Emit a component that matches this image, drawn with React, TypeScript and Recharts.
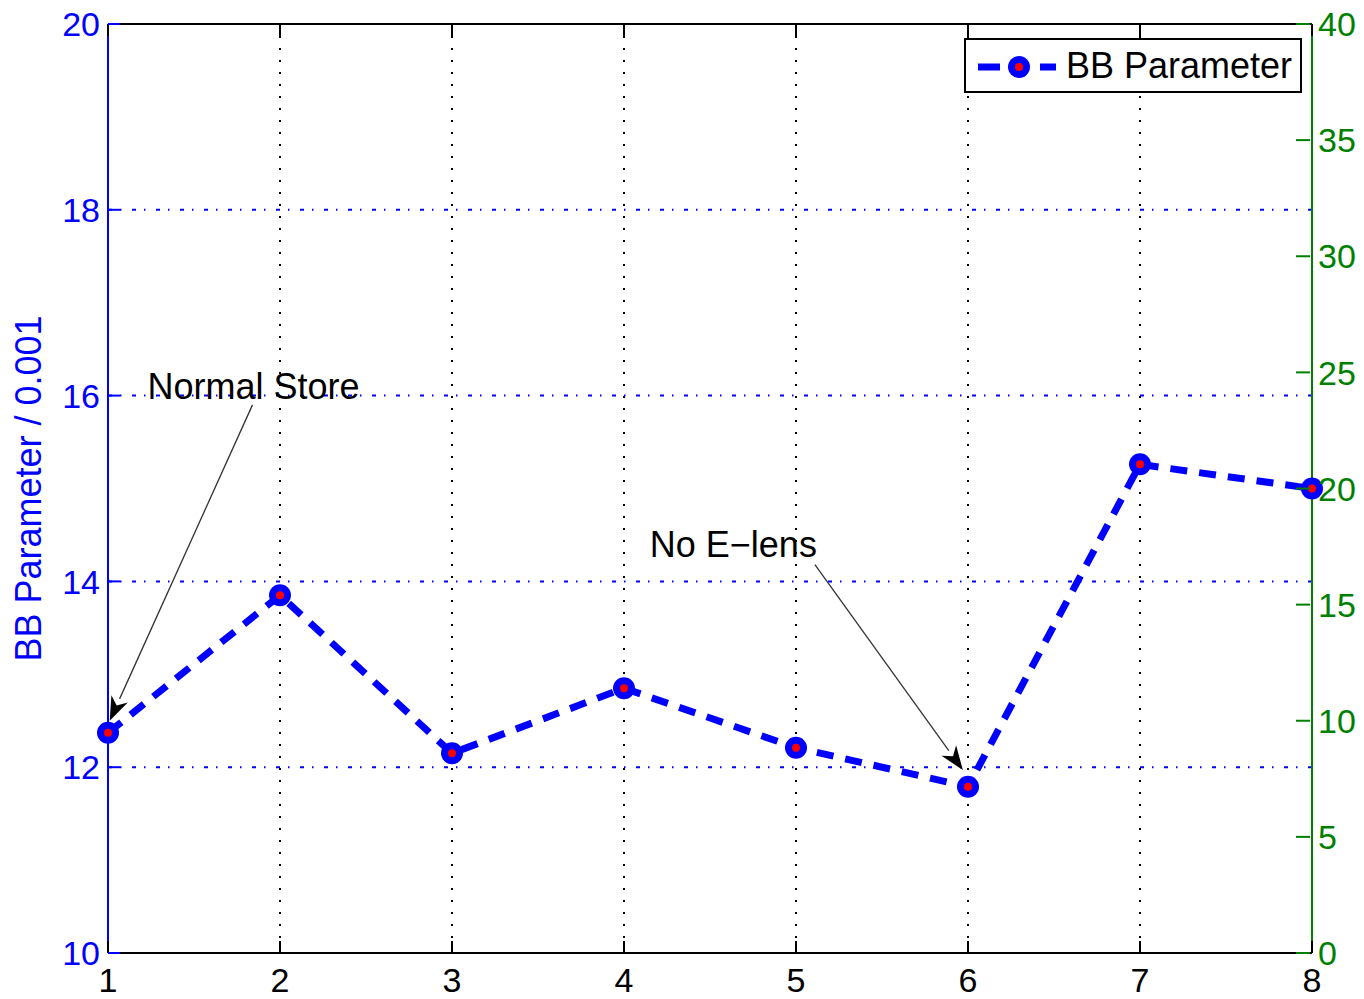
import React from "react";
import {
  CartesianGrid,
  Legend,
  Line,
  LineChart,
  ReferenceDot,
  ReferenceLine,
  XAxis,
  YAxis,
} from "recharts";

const runs = [1, 2, 3, 4, 5, 6, 7, 8];
const bbParam = [12.37, 13.85, 12.15, 12.85, 12.21, 11.79, 15.26, 15.0];
const leftTicks = [10, 12, 14, 16, 18, 20];
const rightTicks = [0, 5, 10, 15, 20, 25, 30, 35, 40];

const annotations = [
  { text: "Normal Store", tx: 1.23, ty: 16.1, fromX: 1.84, fromY: 15.9, toX: 1.01, toY: 12.5 },
  { text: "No E\u2212lens", tx: 4.15, ty: 14.4, fromX: 5.11, fromY: 14.18, toX: 5.97, toY: 11.97 },
];

const data = runs.map((run, i) => ({ run, bb: bbParam[i] }));

const FONT = '"Liberation Sans", Arial, sans-serif';
const FS = 34;
const FS_TEXT = 36;
const BLUE = "#0000ff";
const GREEN = "#008000";
const GAP = 8;

function LeftTick(props: any) {
  const { x, y, payload } = props;
  return (
    <g>
      <line x1={x + GAP} x2={x + GAP + 12} y1={y} y2={y} stroke={BLUE} strokeWidth={2} />
      <text x={x} y={y} dy="0.36em" textAnchor="end" fill={BLUE} fontSize={FS} fontFamily={FONT}>
        {payload.value}
      </text>
    </g>
  );
}

function RightTick(props: any) {
  const { x, y, payload } = props;
  return (
    <g>
      <line x1={x - GAP} x2={x - GAP - 14} y1={y} y2={y} stroke={GREEN} strokeWidth={2} />
      <text x={x} y={y} dy="0.36em" textAnchor="start" fill={GREEN} fontSize={FS} fontFamily={FONT}>
        {payload.value}
      </text>
    </g>
  );
}

function BottomTick(props: any) {
  const { x, y, payload } = props;
  return (
    <g>
      <line x1={x} x2={x} y1={y - 14} y2={y - 26} stroke="#000" strokeWidth={2} />
      <text x={x} y={y} dy="0.74em" textAnchor="middle" fill="#000" fontSize={FS} fontFamily={FONT}>
        {payload.value}
      </text>
    </g>
  );
}

function TopTick(props: any) {
  const { x, y } = props;
  return <line x1={x} x2={x} y1={y} y2={y + 12} stroke="#000" strokeWidth={2} />;
}

function Marker(props: any) {
  const { cx, cy } = props;
  if (cx == null || cy == null) return null;
  return (
    <g>
      <circle cx={cx} cy={cy} r={11} fill={BLUE} />
      <circle cx={cx} cy={cy} r={4} fill="#ff0000" />
    </g>
  );
}

function Arrow(props: any) {
  const { x1, y1, x2, y2 } = props;
  const ang = Math.atan2(y2 - y1, x2 - x1);
  const len = 24;
  const w = 9;
  const bx = x2 - len * Math.cos(ang);
  const by = y2 - len * Math.sin(ang);
  const px = -Math.sin(ang) * w;
  const py = Math.cos(ang) * w;
  return (
    <g>
      <line x1={x1} y1={y1} x2={bx} y2={by} stroke="#333" strokeWidth={1.3} />
      <polygon
        points={`${x2},${y2} ${bx + px},${by + py} ${bx + len * 0.3 * Math.cos(ang)},${by + len * 0.3 * Math.sin(ang)} ${bx - px},${by - py}`}
        fill="#000"
      />
    </g>
  );
}

function LegendBox() {
  return (
    <div
      style={{
        border: "2px solid #000",
        background: "#fff",
        width: 334,
        height: 51,
        display: "flex",
        alignItems: "center",
        fontFamily: FONT,
        fontSize: FS_TEXT,
        boxSizing: "content-box",
      }}
    >
      <svg width={100} height={51}>
        <line x1={12} x2={34} y1={27} y2={27} stroke={BLUE} strokeWidth={7} />
        <line x1={74} x2={90} y1={27} y2={27} stroke={BLUE} strokeWidth={7} />
        <circle cx={53} cy={27} r={11} fill={BLUE} />
        <circle cx={53} cy={27} r={4} fill="#ff0000" />
      </svg>
      <span style={{ color: "#000" }}>BB Parameter</span>
    </div>
  );
}

export default function App() {
  return (
    <div style={{ position: "absolute", left: 0, top: 0, width: 1364, height: 999, background: "#fff" }}>
      <LineChart width={1364} height={999} data={data} margin={{ top: 0, right: 0, bottom: 0, left: 0 }}>
        <CartesianGrid
          xAxisId="bottom"
          yAxisId="left"
          horizontal={false}
          verticalValues={runs.slice(1, -1)}
          stroke="#000"
          strokeWidth={2}
          strokeDasharray="2 10"
        />
        <CartesianGrid
          xAxisId="bottom"
          yAxisId="left"
          vertical={false}
          horizontalValues={leftTicks.slice(1, -1)}
          stroke={BLUE}
          strokeWidth={2}
          strokeDasharray="4 8 1.5 10.5"
        />
        <XAxis
          xAxisId="bottom"
          dataKey="run"
          type="number"
          domain={[1, 8]}
          ticks={runs}
          height={46}
          axisLine={{ stroke: "#000", strokeWidth: 2 }}
          tickLine={false}
          tickSize={0}
          tickMargin={14}
          tick={<BottomTick />}
          interval={0}
        />
        <XAxis
          xAxisId="top"
          orientation="top"
          dataKey="run"
          type="number"
          domain={[1, 8]}
          ticks={runs}
          height={24}
          axisLine={{ stroke: "#000", strokeWidth: 2 }}
          tickLine={false}
          tickSize={0}
          tickMargin={0}
          tick={<TopTick />}
          interval={0}
        />
        <YAxis
          yAxisId="left"
          domain={[10, 20]}
          ticks={leftTicks}
          width={108}
          axisLine={{ stroke: BLUE, strokeWidth: 2 }}
          tickLine={false}
          tickSize={0}
          tickMargin={GAP}
          tick={<LeftTick />}
          interval={0}
          label={{
            content: (p: any) => {
              const vb = p.viewBox || {};
              const cx = 28;
              const cy = (vb.y ?? 24) + (vb.height ?? 929) / 2;
              return (
                <text
                  x={cx}
                  y={cy}
                  transform={`rotate(-90 ${cx} ${cy})`}
                  textAnchor="middle"
                  dy="0.36em"
                  fill={BLUE}
                  fontSize={FS_TEXT}
                  fontFamily={FONT}
                >
                  BB Parameter / 0.001
                </text>
              );
            },
          }}
        />
        <YAxis
          yAxisId="right"
          orientation="right"
          domain={[0, 40]}
          ticks={rightTicks}
          allowDataOverflow
          width={52}
          axisLine={{ stroke: GREEN, strokeWidth: 2 }}
          tickLine={false}
          tickSize={0}
          tickMargin={6}
          tick={<RightTick />}
          interval={0}
        />
        <Legend
          layout="horizontal"
          verticalAlign="middle"
          align="center"
          content={() => <LegendBox />}
          wrapperStyle={{ position: "absolute", top: 38, left: 964, right: "auto", width: 338, height: 55 }}
        />
        {annotations.map((a) => (
          <ReferenceLine
            key={a.text + "-arrow"}
            xAxisId="bottom"
            yAxisId="left"
            segment={[
              { x: a.fromX, y: a.fromY },
              { x: a.toX, y: a.toY },
            ]}
            shape={(p: any) => <Arrow {...p} />}
            ifOverflow="visible"
          />
        ))}
        {annotations.map((a) => (
          <ReferenceDot
            key={a.text}
            xAxisId="bottom"
            yAxisId="left"
            x={a.tx}
            y={a.ty}
            r={0}
            stroke="none"
            fill="none"
            shape={(p: any) => (
              <text
                x={p.cx}
                y={p.cy}
                dy="0.36em"
                textAnchor="start"
                fill="#000"
                fontSize={FS_TEXT}
                fontFamily={FONT}
              >
                {a.text}
              </text>
            )}
          />
        ))}
        <Line
          xAxisId="bottom"
          yAxisId="left"
          dataKey="bb"
          type="linear"
          stroke={BLUE}
          strokeWidth={7}
          strokeDasharray="17 12"
          dot={<Marker />}
          activeDot={false}
          isAnimationActive={false}
          legendType="none"
        />
      </LineChart>
    </div>
  );
}
